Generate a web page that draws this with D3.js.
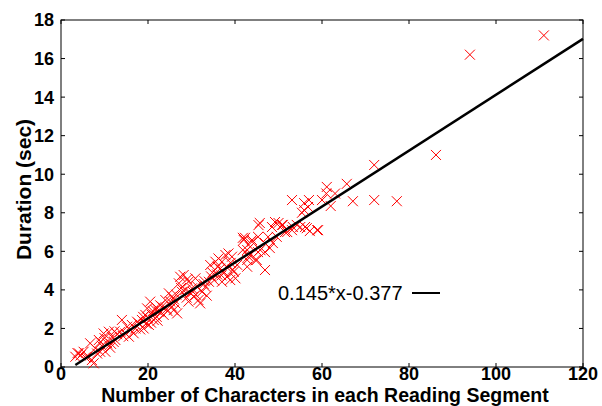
<!DOCTYPE html>
<html><head><meta charset="utf-8">
<script src="https://cdn.jsdelivr.net/npm/d3@7"></script>
<style>body{margin:0;background:#fff}svg{display:block}</style>
</head><body>
<script>
const charCounts = [3.3,3.8,4.1,4.5,5.2,5.6,6.0,6.7,7.1,7.5,7.9,8.3,8.7,9.0,9.4,9.8,10.2,10.6,11.0,11.3,11.7,12.1,12.5,12.9,
13.6,14.0,14.3,14.8,15.2,15.6,16.0,16.3,16.7,17.1,17.5,17.9,18.2,18.6,19.0,19.4,19.6,19.8,20.2,20.0,
20.5,20.9,21.1,21.3,21.7,22.0,22.5,22.8,23.2,23.6,24.0,24.3,24.8,25.1,25.5,25.5,25.9,26.3,26.7,26.5,
27.1,27.4,27.8,28.2,28.6,28.9,29.3,29.3,29.7,30.1,30.5,30.9,31.2,31.6,32.0,32.4,32.8,33.2,33.5,34.0,
34.3,34.8,35.2,35.5,35.9,36.2,36.6,37.0,37.0,37.4,37.8,38.2,38.5,38.9,39.3,39.7,40.1,40.5,38.0,39.0,
41.8,41.8,42.0,42.3,42.8,42.8,42.8,43.1,43.4,43.5,43.9,43.9,44.7,45.0,45.3,45.3,45.4,45.7,45.8,46.9,46.9,46.9,47.6,48.0,48.5,48.7,49.2,49.6,
50.0,50.8,51.0,51.5,52.0,53.1,53.1,53.3,54.2,55.0,55.4,55.9,55.9,56.1,56.5,56.8,57.0,57.2,58.9,59.1,
60.0,61.0,61.1,62.0,63.0,65.7,67.1,72.0,72.0,77.2,86.2,94.0,111.0,
9.1,10.0,11.5,12.3,18.9,20.7,21.9,22.2,23.0,24.5,26.0,27.6,29.0,30.3,31.0,33.0,34.5,36.0,36.9,39.5];
const durations = [0.53,0.72,0.71,0.60,0.79,0.50,0.53,1.23,0.36,0.19,0.97,0.70,1.40,0.79,1.10,1.74,0.79,1.23,1.83,1.00,1.57,1.30,1.40,1.70,
1.83,2.44,1.60,1.74,2.09,1.57,1.90,2.18,1.75,2.00,2.35,2.26,1.95,2.44,2.00,2.70,2.25,3.04,2.18,2.55,
3.39,2.70,2.90,2.44,2.96,2.60,2.87,3.20,3.13,2.70,3.47,3.00,3.82,3.40,3.65,3.13,2.95,3.30,2.78,3.75,
4.34,4.68,3.90,4.77,4.00,3.60,4.42,3.39,3.85,4.08,3.65,4.60,4.20,3.47,3.30,3.90,4.30,4.16,3.70,4.42,
5.29,4.90,4.50,5.46,4.80,5.63,5.10,5.46,4.42,4.94,5.81,4.68,5.89,4.51,5.72,4.94,4.60,5.30,5.20,5.40,
6.07,6.70,6.59,6.70,5.20,5.55,6.07,5.72,5.80,6.24,6.59,6.50,5.55,5.55,6.75,5.96,7.36,7.47,6.07,6.43,5.96,5.03,6.75,6.17,7.26,6.43,7.52,6.75,
7.47,7.37,7.37,7.00,7.00,7.10,8.66,7.26,7.37,7.26,8.00,8.50,8.14,7.26,7.20,8.30,8.66,7.05,7.10,7.10,
8.66,9.00,9.34,8.35,9.00,9.50,8.60,10.48,8.66,8.60,11.00,16.20,17.20,
1.30,1.50,1.20,1.85,2.60,2.30,3.10,2.40,2.85,2.90,3.50,4.10,4.55,3.90,3.75,4.45,4.70,5.20,4.75,5.05];
const xTicks = [0,20,40,60,80,100,120];
const yTicks = [0,2,4,6,8,10,12,14,16,18];
const fitSlope = 0.145, fitIntercept = -0.377;
const fitLabel = "0.145*x-0.377";
const xTitle = "Number of Characters in each Reading Segment";
const yTitle = "Duration (sec)";

const W = 602, H = 406;
const L = 61, R = 583, T = 20, B = 367;
const svg = d3.select("body").append("svg").attr("width", W).attr("height", H);
const x = d3.scaleLinear().domain([0,120]).range([L,R]);
const y = d3.scaleLinear().domain([0,18]).range([B,T]);
const font = "Liberation Sans, Arial, sans-serif";

svg.append("rect").attr("x",L).attr("y",T).attr("width",R-L).attr("height",B-T)
  .attr("fill","none").attr("stroke","#000").attr("stroke-width",1);

const tl = 4;
const gx = svg.append("g");
xTicks.forEach(t => {
  gx.append("line").attr("x1",x(t)).attr("x2",x(t)).attr("y1",B).attr("y2",B-tl).attr("stroke","#000");
  gx.append("line").attr("x1",x(t)).attr("x2",x(t)).attr("y1",T).attr("y2",T+tl).attr("stroke","#000");
  gx.append("text").attr("x",x(t)).attr("y",380).attr("text-anchor","middle")
    .attr("font-family",font).attr("font-weight","bold").attr("font-size",18).text(t);
});
yTicks.forEach(t => {
  gx.append("line").attr("x1",L).attr("x2",L+tl).attr("y1",y(t)).attr("y2",y(t)).attr("stroke","#000");
  gx.append("line").attr("x1",R).attr("x2",R-tl).attr("y1",y(t)).attr("y2",y(t)).attr("stroke","#000");
  gx.append("text").attr("x",54).attr("y",y(t)).attr("dy","0.36em").attr("text-anchor","end")
    .attr("font-family",font).attr("font-weight","bold").attr("font-size",18).text(t);
});

svg.append("text").attr("x",(L+R)/2+3).attr("y",402).attr("text-anchor","middle")
  .attr("font-family",font).attr("font-weight","bold").attr("font-size",19.5).text(xTitle);
svg.append("text").attr("transform",`translate(31,${(T+B)/2-4}) rotate(-90)`).attr("text-anchor","middle")
  .attr("font-family",font).attr("font-weight","bold").attr("font-size",21).text(yTitle);

const pts = charCounts.map((c,i)=>[c,durations[i]]);
const s = 5;
svg.append("g").selectAll("path").data(pts).join("path")
  .attr("d", d => { const px=x(d[0]), py=y(d[1]);
    return `M${px-s},${py-s}L${px+s},${py+s}M${px-s},${py+s}L${px+s},${py-s}`; })
  .attr("stroke","#ff0000").attr("stroke-width",1).attr("fill","none");

const x0 = d3.min(charCounts), x1 = 120;
svg.append("line").attr("x1",x(x0)).attr("y1",y(fitSlope*x0+fitIntercept))
  .attr("x2",x(x1)).attr("y2",y(fitSlope*x1+fitIntercept))
  .attr("stroke","#000").attr("stroke-width",2.5);

svg.append("text").attr("x",278).attr("y",300).attr("font-family",font).attr("font-size",20).text(fitLabel);
svg.append("line").attr("x1",412).attr("x2",440).attr("y1",293).attr("y2",293).attr("stroke","#000").attr("stroke-width",2);
</script>
</body></html>
